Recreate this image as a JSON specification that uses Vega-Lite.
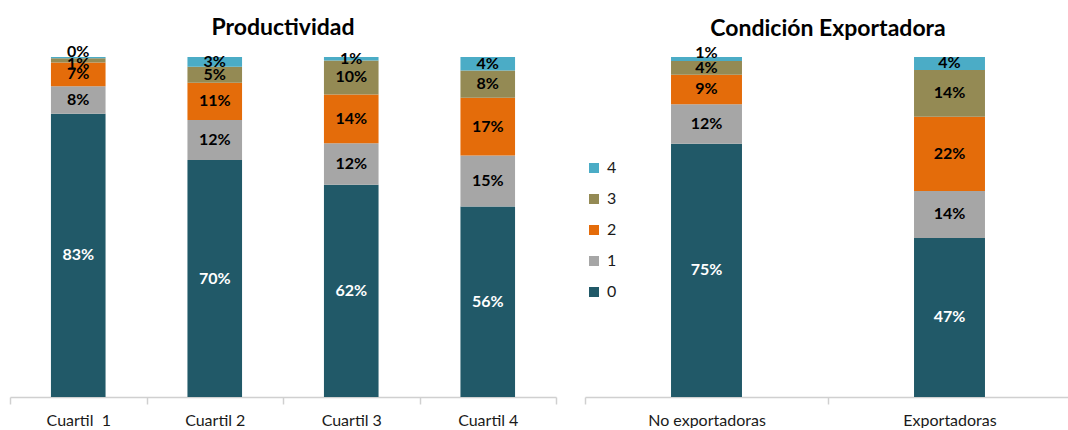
{
  "$schema": "https://vega.github.io/schema/vega-lite/v6.json",
  "padding": {"left": 9, "right": 0, "top": 16, "bottom": 0},
  "autosize": {"type": "pad"},
  "background": "white",
  "config": {
    "view": {"stroke": null},
    "font": "Lato",
    "concat": {"spacing": 27},
    "axisX": {
      "domainColor": "#d0d0d0",
      "domainWidth": 1.5,
      "tickColor": "#d0d0d0",
      "tickWidth": 1.5,
      "tickSize": 7,
      "tickBand": "extent",
      "labelFont": "Lato",
      "labelFontSize": 16,
      "labelColor": "#1a1a1a",
      "labelPadding": 8,
      "labelAngle": 0,
      "title": null,
      "grid": false
    },
    "title": {"font": "Lato", "fontSize": 23, "fontWeight": "bold", "color": "#000000", "anchor": "middle", "offset": 4}
  },
  "datasets": {
    "prod": [
      {"cat": "Cuartil \u00a01", "nivel": "0", "k": 0, "v": 0.833},
      {"cat": "Cuartil \u00a01", "nivel": "1", "k": 1, "v": 0.081},
      {"cat": "Cuartil \u00a01", "nivel": "2", "k": 2, "v": 0.070},
      {"cat": "Cuartil \u00a01", "nivel": "3", "k": 3, "v": 0.012},
      {"cat": "Cuartil \u00a01", "nivel": "4", "k": 4, "v": 0.004},
      {"cat": "Cuartil 2", "nivel": "0", "k": 0, "v": 0.697},
      {"cat": "Cuartil 2", "nivel": "1", "k": 1, "v": 0.118},
      {"cat": "Cuartil 2", "nivel": "2", "k": 2, "v": 0.109},
      {"cat": "Cuartil 2", "nivel": "3", "k": 3, "v": 0.047},
      {"cat": "Cuartil 2", "nivel": "4", "k": 4, "v": 0.029},
      {"cat": "Cuartil 3", "nivel": "0", "k": 0, "v": 0.624},
      {"cat": "Cuartil 3", "nivel": "1", "k": 1, "v": 0.122},
      {"cat": "Cuartil 3", "nivel": "2", "k": 2, "v": 0.144},
      {"cat": "Cuartil 3", "nivel": "3", "k": 3, "v": 0.100},
      {"cat": "Cuartil 3", "nivel": "4", "k": 4, "v": 0.010},
      {"cat": "Cuartil 4", "nivel": "0", "k": 0, "v": 0.560},
      {"cat": "Cuartil 4", "nivel": "1", "k": 1, "v": 0.150},
      {"cat": "Cuartil 4", "nivel": "2", "k": 2, "v": 0.170},
      {"cat": "Cuartil 4", "nivel": "3", "k": 3, "v": 0.080},
      {"cat": "Cuartil 4", "nivel": "4", "k": 4, "v": 0.040}
    ],
    "exp": [
      {"cat": "No exportadoras", "nivel": "0", "k": 0, "v": 0.745},
      {"cat": "No exportadoras", "nivel": "1", "k": 1, "v": 0.116},
      {"cat": "No exportadoras", "nivel": "2", "k": 2, "v": 0.087},
      {"cat": "No exportadoras", "nivel": "3", "k": 3, "v": 0.040},
      {"cat": "No exportadoras", "nivel": "4", "k": 4, "v": 0.012},
      {"cat": "Exportadoras", "nivel": "0", "k": 0, "v": 0.468},
      {"cat": "Exportadoras", "nivel": "1", "k": 1, "v": 0.138},
      {"cat": "Exportadoras", "nivel": "2", "k": 2, "v": 0.218},
      {"cat": "Exportadoras", "nivel": "3", "k": 3, "v": 0.138},
      {"cat": "Exportadoras", "nivel": "4", "k": 4, "v": 0.038}
    ]
  },
  "hconcat": [
    {
      "title": "Productividad",
      "width": 546,
      "height": 340,
      "data": {"name": "prod"},
      "transform": [
        {"stack": "v", "groupby": ["cat"], "sort": [{"field": "k", "order": "ascending"}], "as": ["y0", "y1"]},
        {"calculate": "(datum.y0 + datum.y1) / 2", "as": "mid"}
      ],
      "encoding": {
        "x": {"field": "cat", "type": "nominal", "sort": null, "scale": {"paddingInner": 0, "paddingOuter": 0}}
      },
      "layer": [
        {
          "mark": {"type": "bar", "width": {"band": 0.4}},
          "encoding": {
            "y": {"field": "y0", "type": "quantitative", "scale": {"domain": [0, 1]}, "axis": null},
            "y2": {"field": "y1"},
            "color": {"field": "nivel", "type": "nominal", "scale": {"domain": ["0", "1", "2", "3", "4"], "range": ["#215968", "#a6a6a6", "#e46c0a", "#948a54", "#4bacc6"]}, "legend": null}
          }
        },
        {
          "transform": [{"filter": "!(datum.k == 4 && datum.v < 0.005) && !(datum.k == 3 && datum.v < 0.015)"}],
          "mark": {"type": "text", "fontSize": 16, "fontWeight": "bold", "baseline": "middle"},
          "encoding": {
            "y": {"field": "mid", "type": "quantitative", "scale": {"domain": [0, 1]}, "axis": null},
            "text": {"field": "v", "type": "quantitative", "format": ".0%"},
            "color": {"condition": {"test": "datum.k == 0", "value": "white"}, "value": "black"}
          }
        },
        {
          "transform": [{"filter": "datum.k == 4 && datum.v < 0.005"}],
          "mark": {"type": "text", "fontSize": 16, "fontWeight": "bold", "baseline": "middle", "dy": -6, "color": "black"},
          "encoding": {
            "y": {"field": "mid", "type": "quantitative", "scale": {"domain": [0, 1]}, "axis": null},
            "text": {"field": "v", "type": "quantitative", "format": ".0%"}
          }
        },
        {
          "transform": [{"filter": "datum.k == 3 && datum.v < 0.015"}],
          "mark": {"type": "text", "fontSize": 16, "fontWeight": "bold", "baseline": "middle", "dy": 4, "color": "black"},
          "encoding": {
            "y": {"field": "mid", "type": "quantitative", "scale": {"domain": [0, 1]}, "axis": null},
            "text": {"field": "v", "type": "quantitative", "format": ".0%"}
          }
        }
      ]
    },
    {
      "title": "Condición Exportadora",
      "width": 486,
      "height": 340,
      "data": {"name": "exp"},
      "transform": [
        {"stack": "v", "groupby": ["cat"], "sort": [{"field": "k", "order": "ascending"}], "as": ["y0", "y1"]},
        {"calculate": "(datum.y0 + datum.y1) / 2", "as": "mid"}
      ],
      "encoding": {
        "x": {"field": "cat", "type": "nominal", "sort": null, "scale": {"paddingInner": 0, "paddingOuter": 0}}
      },
      "layer": [
        {
          "mark": {"type": "bar", "width": {"band": 0.292}},
          "encoding": {
            "y": {"field": "y0", "type": "quantitative", "scale": {"domain": [0, 1]}, "axis": null},
            "y2": {"field": "y1"},
            "color": {
              "field": "nivel", "type": "nominal",
              "scale": {"domain": ["0", "1", "2", "3", "4"], "range": ["#215968", "#a6a6a6", "#e46c0a", "#948a54", "#4bacc6"]},
              "legend": {
                "title": null, "orient": "none", "legendX": 1, "legendY": 103,
                "values": ["4", "3", "2", "1", "0"],
                "symbolType": "square", "symbolSize": 100, "symbolStrokeWidth": 0,
                "labelFont": "Lato", "labelFontSize": 16, "labelColor": "#1a1a1a",
                "labelOffset": 5, "rowPadding": 15
              }
            }
          }
        },
        {
          "transform": [{"filter": "!(datum.k == 4 && datum.v < 0.02)"}],
          "mark": {"type": "text", "fontSize": 16, "fontWeight": "bold", "baseline": "middle"},
          "encoding": {
            "y": {"field": "mid", "type": "quantitative", "scale": {"domain": [0, 1]}, "axis": null},
            "text": {"field": "v", "type": "quantitative", "format": ".0%"},
            "color": {"condition": {"test": "datum.k == 0", "value": "white"}, "value": "black"}
          }
        },
        {
          "transform": [{"filter": "datum.k == 4 && datum.v < 0.02"}],
          "mark": {"type": "text", "fontSize": 16, "fontWeight": "bold", "baseline": "middle", "dy": -6, "color": "black"},
          "encoding": {
            "y": {"field": "mid", "type": "quantitative", "scale": {"domain": [0, 1]}, "axis": null},
            "text": {"field": "v", "type": "quantitative", "format": ".0%"}
          }
        }
      ]
    }
  ],
  "resolve": {"scale": {"color": "independent", "y": "independent", "x": "independent"}, "legend": {"color": "independent"}}
}
